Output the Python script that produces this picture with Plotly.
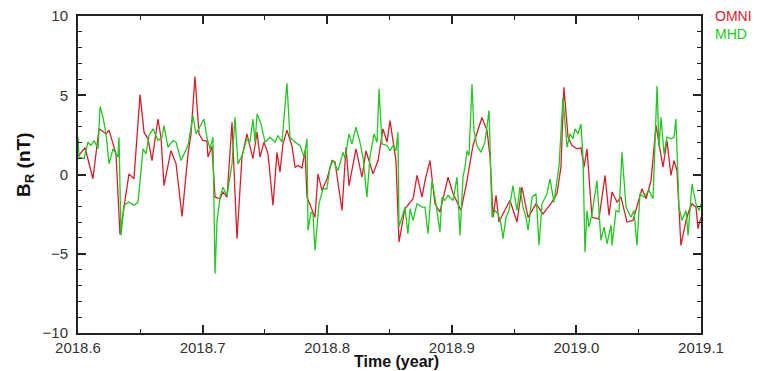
import plotly.graph_objects as go

# OMNI (red) series
omni_t = [2018.6000, 2018.6056, 2018.6120, 2018.6169, 2018.6225, 2018.6249, 2018.6305, 2018.6337,
          2018.6409, 2018.6449, 2018.6498, 2018.6530, 2018.6562, 2018.6594, 2018.6642, 2018.6666,
          2018.6690, 2018.6746, 2018.6787, 2018.6835, 2018.6883, 2018.6907, 2018.6939, 2018.6971,
          2018.7003, 2018.7035, 2018.7043, 2018.7075, 2018.7100, 2018.7140, 2018.7164, 2018.7196,
          2018.7236, 2018.7276, 2018.7316, 2018.7356, 2018.7404, 2018.7437, 2018.7461, 2018.7493,
          2018.7525, 2018.7565, 2018.7597, 2018.7621, 2018.7645, 2018.7677, 2018.7717, 2018.7742,
          2018.7766, 2018.7798, 2018.7822, 2018.7838, 2018.7870, 2018.7902, 2018.7926, 2018.7958,
          2018.7998, 2018.8039, 2018.8063, 2018.8119, 2018.8151, 2018.8175, 2018.8231, 2018.8279,
          2018.8311, 2018.8368, 2018.8408, 2018.8448, 2018.8480, 2018.8504, 2018.8528, 2018.8552,
          2018.8576, 2018.8624, 2018.8689, 2018.8721, 2018.8761, 2018.8785, 2018.8825, 2018.8865,
          2018.8905, 2018.8970, 2018.9010, 2018.9074, 2018.9122, 2018.9170, 2018.9242, 2018.9283,
          2018.9307, 2018.9331, 2018.9355, 2018.9379, 2018.9411, 2018.9467, 2018.9523, 2018.9563,
          2018.9587, 2018.9612, 2018.9676, 2018.9732, 2018.9804, 2018.9844, 2018.9876, 2018.9900,
          2018.9933, 2018.9965, 2019.0005, 2019.0037, 2019.0061, 2019.0085, 2019.0125, 2019.0181,
          2019.0230, 2019.0262, 2019.0286, 2019.0326, 2019.0358, 2019.0406, 2019.0454, 2019.0502,
          2019.0526, 2019.0559, 2019.0599, 2019.0639, 2019.0663, 2019.0695, 2019.0727, 2019.0759,
          2019.0783, 2019.0807, 2019.0839, 2019.0880, 2019.0904, 2019.0928, 2019.0960, 2019.0976,
          2019.1000]
omni_br = [1.13, 1.7, -0.27, 2.9, 2.56, 2.8, 1.3, -3.78,
           0.04, -0.27, 5.04, 2.67, 2.25, 0.88, 3.5, 2.35,
           -0.7, 1.5, 0.67, -2.65, 1.3, 2.56, 6.18, 2.56,
           2.14, 2.14, 1.1, 1.76, -1.43, -1.53, -1.1, -1.43,
           3.3, -4.05, 1.1, 2.56, 1.0, 2.67, 1.1, 2.04,
           1.3, -1.95, 1.4, 0.15, 1.93, 2.8, 1.8, 0.46,
           0.57, 0.42, 1.5, -1.43, -2.06, -2.7, 0.04, -1.0,
           -0.3, 0.88, 0.78, -2.27, 1.72, -0.7, 1.62, -0.17,
           1.5, 0.04, 0.88, 2.88, 2.04, 3.4, 2.14, 0.88,
           -4.26, -2.16, -1.53, -0.06, -1.43, -0.38, 0.88, -1.85,
           -2.37, -0.17, -1.2, -2.27, -0.38, 1.83, 3.6, 2.77,
           1.1, -2.7, -1.32, -3.0, -2.48, -1.64, -3.0, -0.8,
           -1.74, -2.7, -1.85, -2.48, -1.74, -1.2, 0.46, 5.5,
           2.35, 1.83, 1.62, 1.68, 0.46, 1.62, -2.7, -2.8,
           -0.06, -2.58, -1.1, -1.74, -1.43, -3.0, -2.9, -1.53,
           -0.9, -1.53, -0.38, 3.1, 2.04, 0.46, 2.14, -0.06,
           0.88, 0.25, -4.47, -2.9, -2.27, -1.85, -2.06, -3.42,
           -2.7]

# MHD (green) series
mhd_t = [2018.6000, 2018.6008, 2018.6048, 2018.6080, 2018.6104, 2018.6128, 2018.6161, 2018.6177,
         2018.6201, 2018.6225, 2018.6249, 2018.6281, 2018.6321, 2018.6329, 2018.6345, 2018.6369,
         2018.6409, 2018.6449, 2018.6482, 2018.6522, 2018.6546, 2018.6570, 2018.6602, 2018.6642,
         2018.6674, 2018.6690, 2018.6722, 2018.6762, 2018.6787, 2018.6827, 2018.6883, 2018.6923,
         2018.6947, 2018.6987, 2018.7011, 2018.7035, 2018.7059, 2018.7083, 2018.7100, 2018.7116,
         2018.7140, 2018.7164, 2018.7196, 2018.7236, 2018.7260, 2018.7284, 2018.7316, 2018.7356,
         2018.7380, 2018.7404, 2018.7421, 2018.7437, 2018.7469, 2018.7501, 2018.7541, 2018.7581,
         2018.7605, 2018.7637, 2018.7677, 2018.7701, 2018.7742, 2018.7782, 2018.7814, 2018.7838,
         2018.7846, 2018.7870, 2018.7886, 2018.7902, 2018.7934, 2018.7966, 2018.7998, 2018.8022,
         2018.8047, 2018.8087, 2018.8127, 2018.8143, 2018.8175, 2018.8199, 2018.8231, 2018.8263,
         2018.8287, 2018.8319, 2018.8343, 2018.8376, 2018.8400, 2018.8416, 2018.8440, 2018.8480,
         2018.8504, 2018.8528, 2018.8552, 2018.8568, 2018.8576, 2018.8600, 2018.8624, 2018.8648,
         2018.8665, 2018.8689, 2018.8721, 2018.8761, 2018.8785, 2018.8809, 2018.8841, 2018.8873,
         2018.8905, 2018.8921, 2018.8945, 2018.8970, 2018.9010, 2018.9042, 2018.9066, 2018.9090,
         2018.9106, 2018.9122, 2018.9138, 2018.9162, 2018.9178, 2018.9202, 2018.9234, 2018.9266,
         2018.9299, 2018.9323, 2018.9347, 2018.9371, 2018.9395, 2018.9411, 2018.9435, 2018.9459,
         2018.9491, 2018.9523, 2018.9547, 2018.9571, 2018.9596, 2018.9612, 2018.9644, 2018.9676,
         2018.9700, 2018.9724, 2018.9764, 2018.9788, 2018.9820, 2018.9844, 2018.9860, 2018.9892,
         2018.9925, 2018.9949, 2018.9973, 2018.9989, 2019.0013, 2019.0037, 2019.0053, 2019.0069,
         2019.0085, 2019.0101, 2019.0125, 2019.0165, 2019.0181, 2019.0197, 2019.0222, 2019.0246,
         2019.0278, 2019.0286, 2019.0318, 2019.0342, 2019.0366, 2019.0398, 2019.0438, 2019.0462,
         2019.0486, 2019.0510, 2019.0543, 2019.0583, 2019.0615, 2019.0647, 2019.0663, 2019.0679,
         2019.0703, 2019.0727, 2019.0759, 2019.0783, 2019.0799, 2019.0823, 2019.0847, 2019.0880,
         2019.0896, 2019.0928, 2019.0960, 2019.0984, 2019.1000]
mhd_br = [2.35, 1.1, 1.0, 2.04, 1.83, 2.14, 1.62, 4.29,
          3.6, 2.56, 0.67, 1.62, 1.1, 2.35, -3.84, -1.95,
          -1.74, -1.95, -1.74, 1.62, 1.3, 2.46, 2.88, 2.14,
          2.35, 3.09, 1.72, 2.14, 2.04, 0.88, 1.83, 3.72,
          2.56, 3.19, 3.5, 2.35, 1.62, 2.35, -6.26, -2.9,
          -1.43, -0.8, -1.32, 0.67, 3.61, 0.67, 1.2, 2.25,
          2.04, 3.5, 2.04, 3.82, 3.19, 2.04, 2.35, 2.04,
          2.46, 2.04, 5.76, 2.35, 2.04, 1.83, 1.1, 2.25,
          -3.53, -2.37, -2.48, -4.79, -1.85, -0.9, -0.9, 0.46,
          0.88, 0.25, 1.4, 1.0, 2.56, 1.93, 2.98, 2.04,
          1.1, -1.43, 1.1, 2.56, 2.04, 5.4, 1.93, 1.83,
          1.5, 1.83, 1.5, 2.67, -3.3, -2.7, -2.06, -3.74,
          -2.16, -2.9, -1.85, -2.06, -2.06, -3.74, -0.38, -1.85,
          -3.63, -1.43, -1.64, -1.32, -1.64, -0.17, -3.84, -0.17,
          0.46, 1.5, 1.2, 5.7, 2.77, 1.83, 1.4, 2.04,
          4.03, -2.7, -2.27, -2.48, -3.1, -4.05, -2.7, -2.27,
          -0.7, -2.27, -0.8, -2.06, -2.7, -3.53, -1.43, -1.22,
          -4.47, -1.85, -1.22, -0.27, -1.74, -0.38, 0.46, 4.87,
          1.72, 2.56, 2.25, 2.88, 2.56, 3.19, 1.0, -4.9,
          -2.27, -3.32, -2.48, -0.38, -2.27, -4.16, -3.32, -4.37,
          -3.2, -4.47, -2.27, -2.37, 1.4, -2.06, -2.7, -2.27,
          -4.47, -1.22, -1.43, -1.0, -1.53, 5.6, 1.72, 3.61,
          1.3, 2.35, 2.25, 2.35, 3.5, -2.06, -2.9, -2.27,
          -3.84, -0.6, -1.85, -2.27, -1.85]

x_ticks = [2018.6, 2018.7, 2018.8, 2018.9, 2019.0, 2019.1]
x_tick_labels = ["2018.6", "2018.7", "2018.8", "2018.9", "2019.0", "2019.1"]
y_ticks = [-10, -5, 0, 5, 10]

RED = "#d81e2c"
GREEN = "#22c822"
FONT = "Liberation Sans, Arial, sans-serif"

fig = go.Figure()
fig.add_trace(go.Scatter(x=omni_t, y=omni_br, mode="lines", name="OMNI",
                         line=dict(color=RED, width=1.3)))
fig.add_trace(go.Scatter(x=mhd_t, y=mhd_br, mode="lines", name="MHD",
                         line=dict(color=GREEN, width=1.3)))

axis_common = dict(
    showgrid=False, zeroline=False, showline=True, linecolor="#222", linewidth=2,
    mirror="allticks", ticks="inside", ticklen=8, tickwidth=1.5, tickcolor="#222",
    tickfont=dict(family=FONT, size=15, color="#333"), automargin=False,
)

fig.update_layout(
    width=758, height=371,
    margin=dict(l=78, r=57, t=16, b=38),
    paper_bgcolor="white", plot_bgcolor="white",
    showlegend=False,
    xaxis=dict(
        range=[2018.6, 2019.1], tickvals=x_ticks, ticktext=x_tick_labels,
        minor=dict(dtick=0.05, tick0=2018.6, ticks="inside", ticklen=4, tickwidth=1, tickcolor="#222"),
        ticklabelstandoff=0,
        **axis_common,
    ),
    yaxis=dict(
        range=[-10, 10], tickvals=y_ticks,
        minor=dict(dtick=1, tick0=0, ticks="inside", ticklen=4, tickwidth=1, tickcolor="#222"),
        ticklabelstandoff=5,
        **axis_common,
    ),
    annotations=[
        dict(text="<b>Time (year)</b>", xref="paper", yref="paper", x=0.512, y=-0.089,
             xanchor="center", yanchor="middle", showarrow=False,
             font=dict(family=FONT, size=16, color="#111")),
        dict(text="<b>B<sub>R</sub> (nT)</b>", xref="paper", yref="paper", x=-0.085, y=0.53,
             xanchor="center", yanchor="middle", textangle=-90, showarrow=False,
             font=dict(family=FONT, size=19, color="#111")),
        dict(text="OMNI", xref="paper", yref="paper", x=1.02, y=1.0, xanchor="left", yanchor="middle",
             showarrow=False, font=dict(family=FONT, size=14, color=RED)),
        dict(text="MHD", xref="paper", yref="paper", x=1.02, y=0.943, xanchor="left", yanchor="middle",
             showarrow=False, font=dict(family=FONT, size=14, color=GREEN)),
    ],
)

fig.write_html("out.html")
